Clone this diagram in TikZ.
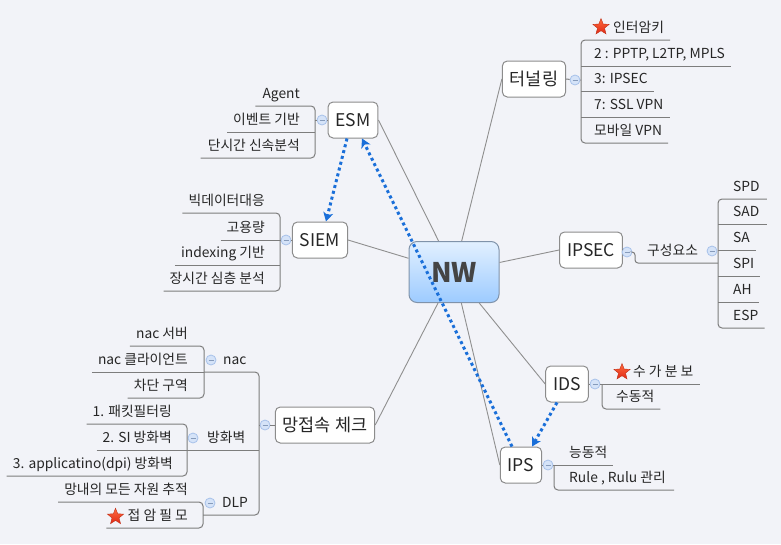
\documentclass[tikz,border=0pt]{standalone}
\usepackage{fontspec}
\setmainfont{Noto Sans CJK KR}
\usetikzlibrary{arrows.meta,shapes.geometric}

\definecolor{paper}{HTML}{F2F3F8}
\definecolor{ink}{HTML}{262626}
\definecolor{boxline}{HTML}{8C8C8C}
\definecolor{treeline}{HTML}{7D7D7D}
\definecolor{branchline}{HTML}{8F8F8F}
\definecolor{roottop}{HTML}{E2F0FF}
\definecolor{rootbottom}{HTML}{9DCBFF}
\definecolor{rootline}{HTML}{8093AA}
\definecolor{rootink}{HTML}{444444}
\definecolor{foldfill}{HTML}{D5E3F8}
\definecolor{foldline}{HTML}{A8C2EA}
\definecolor{linkblue}{HTML}{1A6FD9}
\definecolor{hottop}{HTML}{FF6A3D}
\definecolor{hotbottom}{HTML}{E02A17}
\definecolor{hotline}{HTML}{C03018}

\tikzset{
  root/.style={draw=rootline, line width=1pt, rounded corners=8pt,
    top color=roottop, bottom color=rootbottom,
    minimum width=90pt, minimum height=61pt,
    font=\fontsize{27}{30}\selectfont\bfseries, text=rootink},
  topic/.style={draw=boxline, fill=white, line width=1pt, rounded corners=5pt,
    minimum height=36pt, inner xsep=7.5pt,
    font=\fontsize{17.5}{20}\selectfont, text=ink},
  leaf/.style={font=\fontsize{13.8}{15}\selectfont, text=ink,
    inner sep=0pt, text height=10pt, text depth=7.5pt},
  leafl/.style={leaf, anchor=south east},
  leafr/.style={leaf, anchor=south west},
  fold/.style={circle, draw=foldline, fill=foldfill, line width=0.8pt,
    minimum size=10pt, inner sep=0pt,
    path picture={\draw[foldline!80!black, line width=0.8pt]
      ([xshift=-2.5pt]path picture bounding box.center) --
      ([xshift=2.5pt]path picture bounding box.center);}},
  hot/.style={star, star points=5, star point ratio=2.3, minimum size=17pt,
    inner sep=0pt, draw=hotline, line width=0.4pt,
    top color=hottop, bottom color=hotbottom},
  branch/.style={draw=branchline, line width=0.9pt},
  tree/.style={draw=treeline, line width=1pt, rounded corners=4pt},
  link/.style={draw=linkblue, line width=3pt, dash pattern=on 3pt off 3pt,
    -{Stealth[length=9pt, width=10pt, inset=2.5pt]}}
}

\begin{document}
\begin{tikzpicture}[x=1pt, y=-1pt]

  \useasboundingbox (0,0) rectangle (781,544);
  \fill[paper] (0,0) rectangle (781,544);

  \node[root]  (nw)     at (454,272) {NW};
  \node[topic] (esm)    at (353,120) {ESM};
  \node[topic] (siem)   at (320,240) {SIEM};
  \node[topic] (check)  at (325,425) {망접속 체크};
  \node[topic] (tunnel) at (534,79)  {터널링};
  \node[topic] (ipsec)  at (591,250) {IPSEC};
  \node[topic] (ids)    at (567,384) {IDS};
  \node[topic] (ips)    at (521,465) {IPS};

  \begin{scope}[every node/.style={fold}]
    \node (esmf)    at (322,120) {};
    \node (siemf)   at (286,240) {};
    \node (checkf)  at (265,425) {};
    \node (nacf)    at (211,360) {};
    \node (fwf)     at (193,438) {};
    \node (dlpf)    at (210,503) {};
    \node (tunnelf) at (575,80)  {};
    \node (ipsecf)  at (627,252) {};
    \node (partf)   at (712,251) {};
    \node (idsf)    at (595,384) {};
    \node (ipsf)    at (548,465) {};
  \end{scope}

  \coordinate (esmj)    at (315,120);
  \coordinate (siemj)   at (280,240);
  \coordinate (checkj)  at (259,425);
  \coordinate (nacj)    at (204,372);
  \coordinate (fwj)     at (187,450);
  \coordinate (dlpj)    at (203,515);
  \coordinate (tunnelj) at (581,80);
  \coordinate (partj)   at (718,263);
  \coordinate (idsj)    at (602,384);
  \coordinate (ipsj)    at (554,465);

  \node[leafl] (esm1) at (300,106) {Agent};
  \node[leafl] (esm2) at (300,132) {이벤트 기반};
  \node[leafl] (esm3) at (300,158) {단시간 신속분석};

  \node[leafl] (siem1) at (265,213) {빅데이터대응};
  \node[leafl] (siem2) at (265,240) {고용량};
  \node[leafl] (siem3) at (265,265) {indexing 기반};
  \node[leafl] (siem4) at (265,291) {장시간 심층 분석};

  \node[leafr] (nac) at (223,372) {nac};
  \node[leafr] (fw)  at (207,450) {방화벽};
  \node[leafr] (dlp) at (222,515) {DLP};

  \node[leafl] (nac1) at (188,346) {nac 서버};
  \node[leafl] (nac2) at (188,372) {nac 클라이언트};
  \node[leafl] (nac3) at (188,398) {차단 구역};

  \node[leafl] (fw1) at (172,424) {1. 패킷필터링};
  \node[leafl] (fw2) at (172,450) {2. SI 방화벽};
  \node[leafl] (fw3) at (173,476) {3. applicatino(dpi) 방화벽};

  \node[leafl] (dlp1) at (188,502) {망내의 모든 자원 추적};
  \node[leafl] (dlp2) at (188,528) {접 암 필 모};
  \node[hot]   (dlpstar) at ([xshift=-12pt, yshift=2.3pt]dlp2.west) {};

  \node[hot]   (tunstar) at (601,27) {};
  \node[leafr] (tun0) at (613,40)  {인터암키};
  \node[leafr] (tun1) at (594,66)  {2 : PPTP, L2TP, MPLS};
  \node[leafr] (tun2) at (594,91)  {3: IPSEC};
  \node[leafr] (tun3) at (594,117) {7: SSL VPN};
  \node[leafr] (tun4) at (594,143) {모바일 VPN};

  \node[leafr] (part) at (647,263) {구성요소};
  \node[leafr] (part1) at (733,199) {SPD};
  \node[leafr] (part2) at (733,224) {SAD};
  \node[leafr] (part3) at (733,250) {SA};
  \node[leafr] (part4) at (733,276) {SPI};
  \node[leafr] (part5) at (733,302) {AH};
  \node[leafr] (part6) at (733,328) {ESP};

  \node[hot]   (idsstar) at (622,372) {};
  \node[leafr] (ids1) at (633,384) {수 가 분 보};
  \node[leafr] (ids2) at (616,409) {수동적};

  \node[leafr] (ips1) at (569,465) {능동적};
  \node[leafr] (ips2) at (569,490) {Rule , Rulu 관리};

  \draw[branch] (nw) -- (esm.east);
  \draw[branch] (nw) -- (siem.east);
  \draw[branch] (nw) -- (check.east);
  \draw[branch] (nw) -- (tunnel.west);
  \draw[branch] (nw) -- (ipsec.west);
  \draw[branch] (nw) -- (ids.west);
  \draw[branch] (nw) -- (ips.west);

  \draw[tree] (esm.west) -- (esmf) -- (esmj);
  \draw[tree] ([xshift=-7]esm1.south west) -| (esmj) |- ([xshift=-7]esm3.south west);
  \draw[tree] ([xshift=-6]esm2.south west) -- (esm2.south -| esmj);

  \draw[tree] (siem.west) -- (siemf) -- (siemj);
  \draw[tree] ([xshift=-6]siem1.south west) -| (siemj) |- ([xshift=-6]siem4.south west);
  \draw[tree] ([xshift=-6]siem2.south west) -- (siemj);
  \draw[tree] ([xshift=-6]siem3.south west) -- (siem3.south -| siemj);

  \draw[tree] (check.west) -- (checkf) -- (checkj);
  \draw[tree] (nacj) -| (checkj) |- (dlpj);
  \draw[tree] (fwj) -- (fwj -| checkj);

  \draw[tree] ([xshift=-6]nac1.south west) -| (nacj) |- ([xshift=-6]nac3.south west);
  \draw[tree] ([xshift=-6]nac2.south west) -- (nacj);

  \draw[tree] ([xshift=-6]fw1.south west) -| (fwj) |- ([xshift=-6]fw3.south west);
  \draw[tree] ([xshift=-6]fw2.south west) -- (fwj);

  \draw[tree] ([xshift=-6]dlp1.south west) -| (dlpj) |- (dlpstar.west |- dlp2.south) -- ++(-4,0);

  \draw[tree] (tunnel.east) -- (tunnelf) -- (tunnelj);
  \draw[tree] ([xshift=6]tun0.south east) -| (tunnelj) |- ([xshift=6]tun4.south east);
  \draw[tree] (tun1.south -| tunnelj) -- ([xshift=6]tun1.south east);
  \draw[tree] (tun2.south -| tunnelj) -- ([xshift=6]tun2.south east);
  \draw[tree] (tun3.south -| tunnelj) -- ([xshift=6]tun3.south east);

  \draw[tree] (ipsec.east) -- (ipsecf);
  \draw[tree, rounded corners=3pt] (ipsecf) -- ++(8,0) |- (partj);
  \draw[tree] ([xshift=7]part1.south east) -| (partj) |- ([xshift=6]part6.south east);
  \draw[tree] (part2.south -| partj) -- ([xshift=7]part2.south east);
  \draw[tree] (part3.south -| partj) -- ([xshift=6]part3.south east);
  \draw[tree] (part4.south -| partj) -- ([xshift=6]part4.south east);
  \draw[tree] (part5.south -| partj) -- ([xshift=7]part5.south east);

  \draw[tree] (ids.east) -- (idsf) -- ([xshift=7]ids1.south east);
  \draw[tree] (idsj) |- ([xshift=6]ids2.south east);

  \draw[tree] (ips.east) -- (ipsf) -- ([xshift=6]ips1.south east);
  \draw[tree] (ipsj) |- ([xshift=8]ips2.south east);

  \draw[link] ([xshift=-6]esm.south) -- ([xshift=6]siem.north);
  \draw[link] ([xshift=-9]ips.north) -- ([xshift=9]esm.south);
  \draw[link] ([xshift=-10]ids.south) -- ([xshift=11]ips.north);

\end{tikzpicture}
\end{document}
